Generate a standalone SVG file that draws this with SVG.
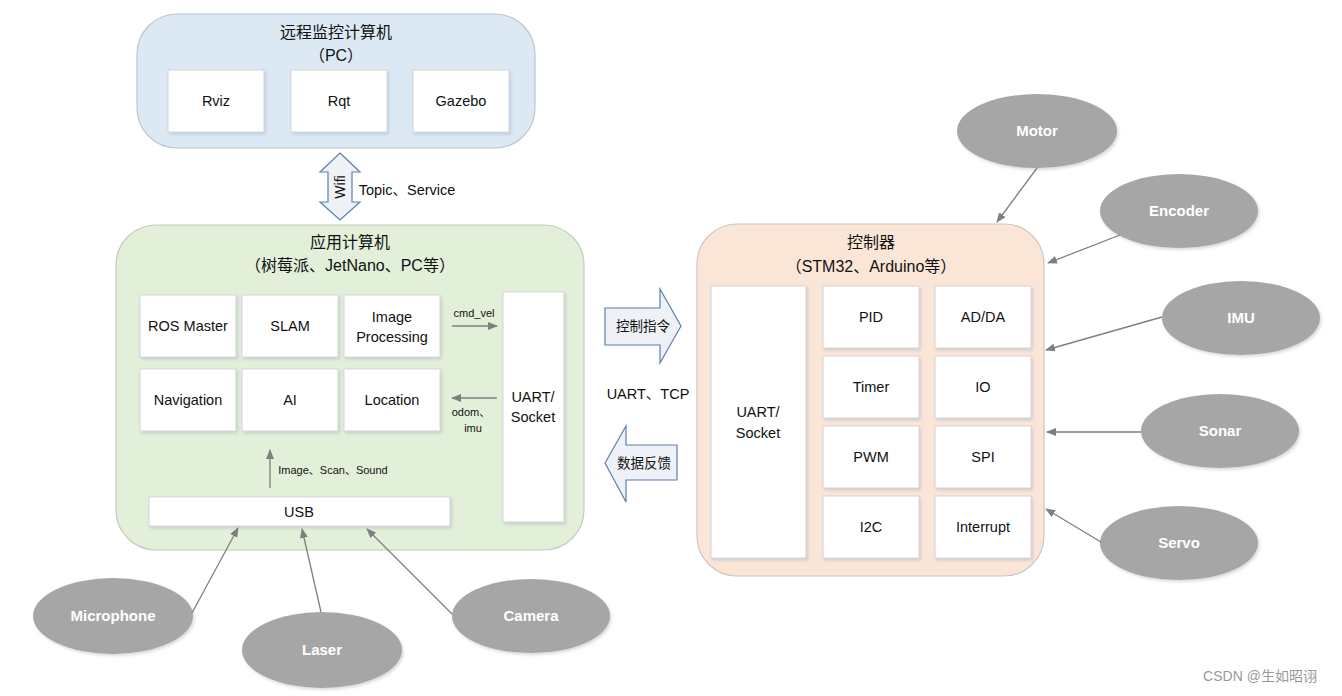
<svg xmlns="http://www.w3.org/2000/svg" width="1342" height="696" viewBox="0 0 1342 696">
<style>
text{font-family:"Liberation Sans","Noto Sans CJK SC",sans-serif;fill:#111;text-anchor:middle}
.title{font-size:16px}
.box{fill:#fff;stroke:#d6d6d6;stroke-width:1;filter:url(#sh)}
.lbl{font-size:14.5px}
.small{font-size:11px}
.ell{fill:#a6a6a6;filter:url(#sh)}
.etxt{font-size:15px;font-weight:bold;fill:#fff}
.conn{stroke:#7f7f7f;stroke-width:1.3;fill:none;marker-end:url(#ah)}
.big{fill:#eef1f6;stroke:#5b7fae;stroke-width:1.2}
</style>
<defs>
<filter id="sh" x="-10%" y="-10%" width="130%" height="130%">
<feDropShadow dx="1.5" dy="2" stdDeviation="1.5" flood-color="#9fb0c0" flood-opacity="0.45"/>
</filter>
<marker id="ah" markerWidth="10" markerHeight="8" refX="9" refY="4" orient="auto" markerUnits="userSpaceOnUse">
<path d="M0,0 L10,4 L0,8 Z" fill="#7f7f7f"/>
</marker>
</defs>
<rect width="1342" height="696" fill="#fff"/>

<g id="pc">
<rect x="137" y="14" width="398" height="134" rx="40" fill="#dde8f5" stroke="#bcc6d2" stroke-width="1.2"/>
<text class="title" x="336" y="38">远程监控计算机</text>
<text class="title" x="336" y="61">（PC）</text>
<g id="rviz"><rect class="box" x="168" y="70" width="96" height="62"/><text class="lbl" x="216" y="106">Rviz</text></g>
<g id="rqt"><rect class="box" x="291" y="70" width="96" height="62"/><text class="lbl" x="339" y="106">Rqt</text></g>
<g id="gazebo"><rect class="box" x="413" y="70" width="96" height="62"/><text class="lbl" x="461" y="106">Gazebo</text></g>
</g>

<g id="wifi">
<path class="big" d="M340,153 L360,172 L352,172 L352,202 L360,202 L340,220 L320,202 L328,202 L328,172 L320,172 Z"/>
<text x="0" y="0" font-size="14" transform="translate(345,187) rotate(-90)">Wifi</text>
<text x="407" y="195" font-size="14.5">Topic、Service</text>
</g>

<g id="app">
<rect x="116" y="225" width="468" height="325" rx="40" fill="#e2efd9" stroke="#c3cbc0" stroke-width="1.2"/>
<text class="title" x="350" y="248">应用计算机</text>
<text class="title" x="350" y="271">（树莓派、JetNano、PC等）</text>
<g id="rosmaster"><rect class="box" x="140" y="295" width="96" height="62"/><text class="lbl" x="188" y="331">ROS Master</text></g>
<g id="slam"><rect class="box" x="242" y="295" width="96" height="62"/><text class="lbl" x="290" y="331">SLAM</text></g>
<g id="imgproc"><rect class="box" x="344" y="295" width="96" height="62"/><text class="lbl" x="392" y="322">Image</text><text class="lbl" x="392" y="342">Processing</text></g>
<g id="navigation"><rect class="box" x="140" y="369" width="96" height="62"/><text class="lbl" x="188" y="405">Navigation</text></g>
<g id="ai"><rect class="box" x="242" y="369" width="96" height="62"/><text class="lbl" x="290" y="405">AI</text></g>
<g id="location"><rect class="box" x="344" y="369" width="96" height="62"/><text class="lbl" x="392" y="405">Location</text></g>
<g id="uart1"><rect class="box" x="503" y="292" width="61" height="230"/><text class="lbl" x="533" y="402">UART/</text><text class="lbl" x="533" y="422">Socket</text></g>
<g id="usb"><rect class="box" x="149" y="497" width="301" height="29"/><text class="lbl" x="299" y="517">USB</text></g>
<text class="small" x="474" y="317">cmd_vel</text>
<text class="small" x="471" y="416">odom、</text>
<text class="small" x="473" y="432">imu</text>
<text class="small" x="333" y="474">Image、Scan、Sound</text>
</g>

<g id="ctrl">
<rect x="697" y="224" width="347" height="352" rx="40" fill="#fbe5d6" stroke="#cfc6be" stroke-width="1.2"/>
<text class="title" x="871" y="248">控制器</text>
<text class="title" x="871" y="272">（STM32、Arduino等）</text>
<g id="uart2"><rect class="box" x="711" y="286" width="95" height="272"/><text class="lbl" x="758" y="417">UART/</text><text class="lbl" x="758" y="438">Socket</text></g>
<g id="pid"><rect class="box" x="823" y="286" width="96" height="62"/><text class="lbl" x="871" y="322">PID</text></g>
<g id="adda"><rect class="box" x="935" y="286" width="96" height="62"/><text class="lbl" x="983" y="322">AD/DA</text></g>
<g id="timer"><rect class="box" x="823" y="356" width="96" height="62"/><text class="lbl" x="871" y="392">Timer</text></g>
<g id="io"><rect class="box" x="935" y="356" width="96" height="62"/><text class="lbl" x="983" y="392">IO</text></g>
<g id="pwm"><rect class="box" x="823" y="426" width="96" height="62"/><text class="lbl" x="871" y="462">PWM</text></g>
<g id="spi"><rect class="box" x="935" y="426" width="96" height="62"/><text class="lbl" x="983" y="462">SPI</text></g>
<g id="i2c"><rect class="box" x="823" y="496" width="96" height="62"/><text class="lbl" x="871" y="532">I2C</text></g>
<g id="interrupt"><rect class="box" x="935" y="496" width="96" height="62"/><text class="lbl" x="983" y="532">Interrupt</text></g>
</g>

<g id="cmd-arrow">
<path class="big" d="M605,308 L660,308 L660,289 L681,326 L660,363 L660,345 L605,345 Z"/>
<text x="643" y="331" font-size="13.5">控制指令</text>
</g>
<g id="fb-arrow">
<path class="big" d="M605,463 L626,426 L626,445 L677,445 L677,480 L626,480 L626,502 Z"/>
<text x="644" y="468" font-size="13.5">数据反馈</text>
</g>
<text x="648" y="399" font-size="14.5">UART、TCP</text>

<g id="microphone"><ellipse class="ell" cx="113" cy="616" rx="80" ry="38"/><text class="etxt" x="113" y="621">Microphone</text></g>
<g id="laser"><ellipse class="ell" cx="322" cy="650" rx="80" ry="38"/><text class="etxt" x="322" y="655">Laser</text></g>
<g id="camera"><ellipse class="ell" cx="531" cy="616" rx="79" ry="37"/><text class="etxt" x="531" y="621">Camera</text></g>
<g id="motor"><ellipse class="ell" cx="1037" cy="131" rx="80" ry="37"/><text class="etxt" x="1037" y="136">Motor</text></g>
<g id="encoder"><ellipse class="ell" cx="1179" cy="211" rx="79" ry="37"/><text class="etxt" x="1179" y="216">Encoder</text></g>
<g id="imu"><ellipse class="ell" cx="1241" cy="318" rx="79" ry="37"/><text class="etxt" x="1241" y="323">IMU</text></g>
<g id="sonar"><ellipse class="ell" cx="1220" cy="431" rx="79" ry="37"/><text class="etxt" x="1220" y="436">Sonar</text></g>
<g id="servo"><ellipse class="ell" cx="1179" cy="543" rx="79" ry="37"/><text class="etxt" x="1179" y="548">Servo</text></g>

<g id="connectors">
<line class="conn" x1="452" y1="326" x2="497" y2="326"/>
<line class="conn" x1="497" y1="398" x2="452" y2="398"/>
<line class="conn" x1="270" y1="488" x2="270" y2="450"/>
<line class="conn" x1="192" y1="613" x2="238" y2="528"/>
<line class="conn" x1="321" y1="612" x2="302" y2="529"/>
<line class="conn" x1="452" y1="614" x2="367" y2="529"/>
<line class="conn" x1="1037" y1="168" x2="997" y2="222"/>
<line class="conn" x1="1120" y1="235" x2="1048" y2="263"/>
<line class="conn" x1="1162" y1="317" x2="1046" y2="350"/>
<line class="conn" x1="1141" y1="432" x2="1047" y2="432"/>
<line class="conn" x1="1101" y1="542" x2="1046" y2="509"/>
</g>

<text x="1260" y="681" font-size="14" style="fill:#999">CSDN @生如昭诩</text>
</svg>
